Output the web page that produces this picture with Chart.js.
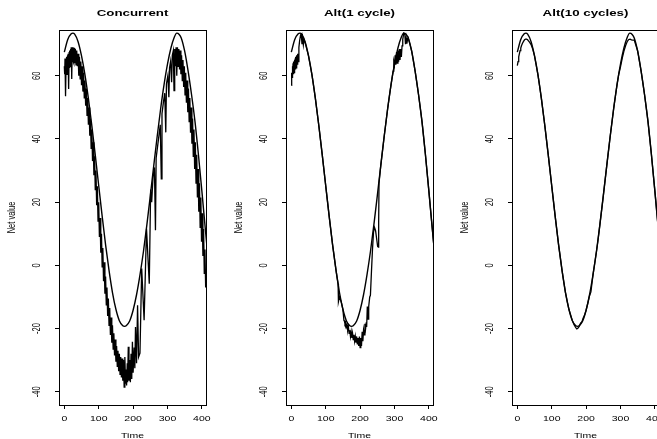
<!DOCTYPE html>
<html>
<head>
<meta charset="utf-8">
<script src="https://cdn.jsdelivr.net/npm/chart.js@4/dist/chart.umd.min.js"></script>
<style>
html, body { margin: 0; padding: 0; background: #fff; overflow: hidden; width: 657px; height: 439px; }
.panel { position: absolute; top: 0; width: 227px; height: 439px; }
</style>
</head>
<body>
<div class="panel" style="left:0px"><canvas id="c1" width="227" height="439"></canvas></div>
<div class="panel" style="left:227px"><canvas id="c2" width="227" height="439"></canvas></div>
<div class="panel" style="left:453px"><canvas id="c3" width="227" height="439"></canvas></div>
<script>
// tick labels and titles
const xTicks = [0, 100, 200, 300, 400];
const yTicks = [-40, -20, 0, 20, 40, 60];
const titles = ['Concurrent', 'Alt(1 cycle)', 'Alt(10 cycles)'];

// target curve, [time, net value]
const smoothCurve = [[0,67.5],[10,71.5],[20,73.3],[25,73.5],[30,73.2],[40,70.8],[50,66.3],[60,60.3],[70,52.8],[80,44.2],
  [90,34.9],[100,25.2],[110,15.6],[120,6.5],[130,-1.6],[140,-8.6],[150,-13.9],[160,-17.5],[170,-19.1],[175,-19.3],
  [180,-19.1],[190,-17.6],[200,-14.2],[210,-9.3],[220,-3],[230,4.3],[240,12.8],[250,22],[260,31.5],[270,40.8],
  [280,49.5],[290,57.2],[300,63.7],[310,68.8],[320,72.3],[327,73.5],[334,73.1],[340,72],[350,67.8],[360,61.5],
  [370,54],[380,45.5],[390,35],[400,23.5],[410,11.5],[416,4.5]];

// learned net value, concurrent
const concurrentNet = [[0,63],[1,60.5],[2,65.5],[3,61],[4,53.5],[5,63.5],[6,61.5],[7,66],[8,60.5],[9,66.5],[10,61],
  [11,67],[12,62],[13,55.8],[14,67.5],[15,62.5],[16,68],[17,63],[18,68.5],[19,63.5],[20,69],[21,64],[22,59],[23,69],
  [24,64.5],[25,69],[26,64.5],[27,69],[28,64],[29,68.8],[30,64],[32,68.5],[34,63.5],[36,68],[38,63],
  [40,67],[42,60],[44,66],[46,59],[48,64.5],[50,57],[52,63],[54,55],[56,61],[58,53],[60,58.5],[62,50.5],[64,56],
  [66,47.5],[68,53],[70,44.5],[72,50],[74,41],[76,46.5],[78,37],[80,43],[82,33],[84,39],[86,28.5],[88,34.5],[90,24],
  [92,30],[94,19],[96,25],[98,14],[100,20],[102,9],[104,15],[106,4],[108,10],[110,-0.5],[112,5.5],[114,-5],[116,1],
  [118,-9],[120,-3.5],[122,-12.5],[124,-7],[126,-16],[128,-10.5],[130,-19],[132,-13.5],[134,-22],[136,-16.5],
  [138,-24.5],[140,-19],[142,-26.5],[144,-21.5],[146,-28.5],[148,-23.5],[150,-30.5],[152,-25.5],[154,-32],[156,-27],
  [158,-33.5],[160,-28],[162,-34.5],[164,-29],[166,-35.5],[168,-29.5],[170,-36.5],[172,-30],[174,-38.5],[176,-29],
  [178,-37.5],[180,-33],[181,-38],[183,-31],[184,-37],[186,-25.8],[188,-36.5],[190,-30],[192,-37],[194,-28],[196,-36],
  [198,-24.2],[200,-34],[203,-26],[205,-32.6],[207,-19.5],[210,-31],[213,-12.6],[216,-29],[220,-27.8],[225,-1],
  [232,-17.4],[239,11.6],[247,-5.8],[251,24],[254,20],[258,28],[262,31],[265,11.1],[267,34],[271,37.5],[275,41],
  [279,44.5],[282,27.4],[284,48],[288,51.5],[292,54.5],[295,42.1],[297,57.5],[301,60],[304,53.2],[306,62.5],
  [309,64.5],[312,58],[314,66.5],[317,68],[319,55.3],[321,68.5],[323,63],[325,69],[327,60],[329,69],
  [331,63],[333,68.5],[335,62],[337,68],[339,60.5],[341,66.5],[343,58.5],[345,65],[347,56.5],[349,63],[351,54],
  [353,61],[355,51.5],[357,58.5],[359,48.5],[361,56],[363,45.5],[365,53],[367,42],[369,50],[371,38.5],[373,46.5],
  [375,34.5],[377,43],[379,30.5],[381,39],[383,26],[385,35],[387,21.5],[389,30.5],[391,17],[393,26],[395,12],
  [397,21.5],[399,7.5],[401,16.5],[403,3],[405,11.5],[407,-2.5],[409,5],[411,-7]];

// learned net value, alternating every cycle
const alt1Net = [[0,57],[1,61],[2,59.5],[3,63],[4,60],[5,64],[6,60.5],[7,64.5],[8,61],[9,65],[10,61.5],[11,65.5],
  [12,62],[13,66],[14,62.5],[15,66.5],[16,63],[17,66],[18,63.5],[19,67],[20,64.5],[22,69],[24,71],[27,73],[29,73.2],
  [31,70],[33,72],[35,69.8],[37,71.5],[40,70.6],[50,66.3],[60,60.3],[70,52.8],[80,44.2],[90,34.9],[100,25.2],
  [110,15.6],[120,6.5],[130,-1.6],[136,-5.8],[137,-11.5],[140,-10],[145,-11.5],[150,-14],[153,-17.4],[154,-17.5],
  [156,-18.5],[158,-18],[160,-19.5],[162,-18.8],[164,-20.5],[166,-19.5],[168,-21.5],[170,-20.5],[172,-22.5],
  [174,-21],[176,-23],[178,-21.5],[180,-23.5],[182,-22],[184,-24],[186,-22.5],[188,-24.5],[190,-22.5],[192,-25],
  [194,-23],[196,-25.5],[198,-22.5],[200,-26],[202,-23],[204,-25.5],[206,-21],[208,-24],[210,-20.5],[212,-22],
  [214,-18.5],[216,-20],[218,-18],[219,-19.5],[221,-13],[223,-17],[225,-13],[228,-10],[230,-9.5],[233,-2],[236,5],
  [239,10.5],[242,12],[245,11],[248,8.5],[251,6],[253,5.8],[254,14],[255,26],[260,31.5],[270,40.8],[280,49.5],
  [290,57.2],[296,61.5],[298,64.5],[300,63.5],[302,66.5],[304,63.5],[306,67.5],[308,64],[310,68],[312,64.5],
  [314,68.5],[316,65],[318,68.5],[320,66],[322,69.5],[324,71.5],[327,73.5],[330,73.3],[332,70],[334,72],[336,70.2],
  [338,71.5],[340,72],[350,67.8],[360,61.5],[370,54],[380,45.5],[390,35],[400,23.5],[410,11.5],[416,4.5]];

// learned net value, alternating every 10 cycles
const alt10Net = [[0,63.2],[2,64.5],[4,66],[6,67],[8,68],[10,68.8],[12,69.5],[15,70.3],[18,70.9],[21,71.4],[24,71.6],
  [27,71.6],[30,71.4],[33,71],[36,70.6],[40,69.9],[45,68.4],[50,66.3],[60,60.3],[70,52.8],[80,44.2],[90,34.9],
  [100,25.2],[110,15.6],[120,6.5],[130,-1.6],[140,-8.6],[150,-13.9],[160,-17.5],[165,-18.8],[170,-19.7],[173,-20.1],
  [176,-19.9],[180,-19.3],[184,-18.3],[188,-17.8],[191,-16.8],[195,-15.9],[200,-14.2],[205,-12],[210,-9.6],[214,-8.4],
  [216,-6.6],[220,-3],[230,4.3],[234,7.4],[236,9.2],[240,12.8],[250,22],[260,31.5],[270,40.8],[280,49.5],[290,57.2],
  [295,60.5],[300,62.8],[305,65.5],[310,67.8],[315,69.6],[320,70.9],[324,71.5],[328,71.6],[332,71.4],[336,71.3],
  [340,71.3],[345,69.6],[350,67.8],[360,61.5],[370,54],[380,45.5],[390,35],[400,23.5],[410,11.5],[416,4.5]];

const FONT = '"Liberation Sans", Arial, Helvetica, sans-serif';
const STRETCH = 1.4;

// R-like squashed text: wider than tall
function stretchText(ctx, text, x, y, rotate) {
    ctx.save();
    ctx.translate(x, y);
    if (rotate) {
        ctx.rotate(-Math.PI / 2);
        ctx.scale(1, STRETCH);
    } else {
        ctx.scale(STRETCH, 1);
    }
    ctx.fillText(text, 0, 0);
    ctx.restore();
}

const rAxes = {
    id: 'rAxes',
    afterDraw(chart, args, opts) {
        const ctx = chart.ctx;
        const a = chart.chartArea;
        const xs = chart.scales.x;
        const ys = chart.scales.y;
        ctx.save();
        ctx.strokeStyle = '#000';
        ctx.lineWidth = 1;
        ctx.strokeRect(Math.round(a.left) + 0.5, Math.round(a.top) + 0.5,
            Math.round(a.right - a.left), Math.round(a.bottom - a.top));
        ctx.fillStyle = '#000';
        ctx.textAlign = 'center';
        ctx.textBaseline = 'middle';
        ctx.font = '7.5px ' + FONT;
        xs.ticks.forEach(t => stretchText(ctx, String(t.value), xs.getPixelForValue(t.value), 419, false));
        ys.ticks.forEach(t => stretchText(ctx, String(t.value), a.left - 22, ys.getPixelForValue(t.value), true));
        ctx.font = '7.5px ' + FONT;
        stretchText(ctx, 'Time', (a.left + a.right) / 2, 436, false);
        stretchText(ctx, 'Net value', a.left - 47, (a.top + a.bottom) / 2, true);
        ctx.font = 'bold 9.5px ' + FONT;
        stretchText(ctx, opts.title, (a.left + a.right) / 2, 13, false);
        ctx.restore();
    }
};

function toXY(pairs) {
    return pairs.map(p => ({ x: p[0], y: p[1] }));
}

function makePanel(id, title, series) {
    new Chart(document.getElementById(id), {
        type: 'line',
        data: {
            datasets: [
                { data: toXY(smoothCurve), borderColor: '#000', borderWidth: 1.4, pointRadius: 0, cubicInterpolationMode: 'monotone' },
                { data: toXY(series), borderColor: '#000', borderWidth: 1.3, pointRadius: 0, tension: 0 }
            ]
        },
        options: {
            responsive: false,
            animation: false,
            devicePixelRatio: 1,
            events: [],
            layout: { padding: { left: 55, right: 21, top: 30, bottom: 30 } },
            plugins: { legend: { display: false }, tooltip: { enabled: false }, rAxes: { title: title } },
            scales: {
                x: {
                    type: 'linear', min: -15.5, max: 412,
                    afterBuildTicks: s => { s.ticks = xTicks.map(v => ({ value: v })); },
                    afterFit: s => { s.height = 4; },
                    ticks: { display: false },
                    grid: { drawOnChartArea: false, drawTicks: true, tickLength: 4, color: '#000', lineWidth: 1 },
                    border: { display: true, color: '#000', width: 1 }
                },
                y: {
                    type: 'linear', min: -44.2, max: 74.5,
                    afterBuildTicks: s => { s.ticks = yTicks.map(v => ({ value: v })); },
                    afterFit: s => { s.width = 4; },
                    ticks: { display: false },
                    grid: { drawOnChartArea: false, drawTicks: true, tickLength: 4, color: '#000', lineWidth: 1 },
                    border: { display: true, color: '#000', width: 1 }
                }
            }
        },
        plugins: [rAxes]
    });
}

makePanel('c1', titles[0], concurrentNet);
makePanel('c2', titles[1], alt1Net);
makePanel('c3', titles[2], alt10Net);
</script>
</body>
</html>
